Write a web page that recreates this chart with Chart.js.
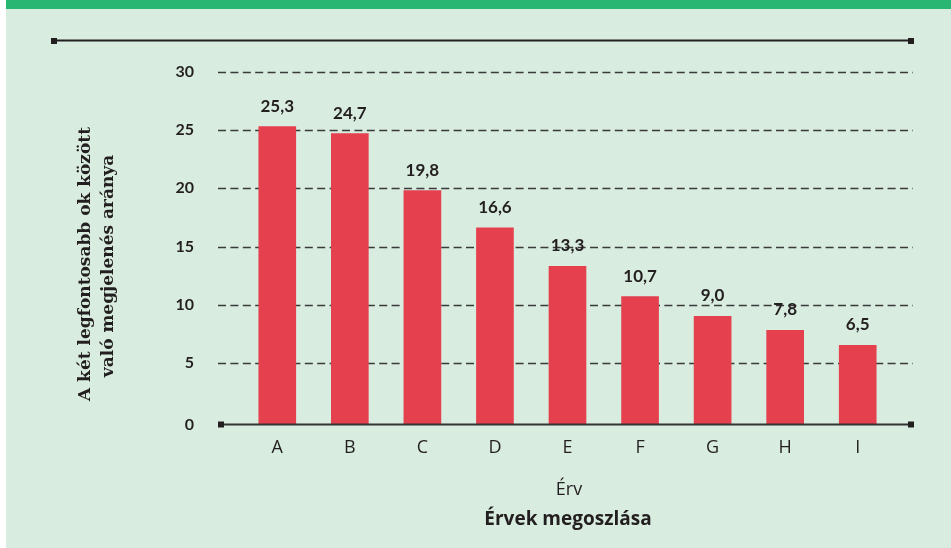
<!DOCTYPE html>
<html>
<head>
<meta charset="utf-8">
<script src="https://cdn.jsdelivr.net/npm/chart.js@4"></script>
<style>
  html, body { margin: 0; padding: 0; overflow: hidden; background: #fff; }
  #wrap { position: relative; width: 951px; height: 548px; }
</style>
</head>
<body>
<div id="wrap"><canvas id="chart"></canvas></div>
<script>
// ── Data ─────────────────────────────────────────────────────────────────────
const categories = ['A', 'B', 'C', 'D', 'E', 'F', 'G', 'H', 'I'];
const values     = [25.3, 24.7, 19.8, 16.6, 13.3, 10.7, 9.0, 7.8, 6.5];
const yTicks     = [0, 5, 10, 15, 20, 25, 30];
const yTitle     = ['A két legfontosabb ok között', 'való megjelenés aránya'];
const xTitle     = 'Érv';
const chartTitle = 'Érvek megoszlása';

// ── Colours / fonts ──────────────────────────────────────────────────────────
const BG    = '#d8ecdf';
const GREEN = '#29b673';
const BAR   = '#e5404e';
const INK   = '#231f20';
const NUM_FONT    = 'Lato, "Open Sans", sans-serif';
const NARROW_FONT = '"Liberation Sans Narrow", "Open Sans", sans-serif';
const AXIS_BASE   = -0.3;   // axis line sits a hair below zero

const fmt = v => v.toFixed(1).replace('.', ',');

function dot(ctx, x, y) {
  ctx.fillStyle = INK;
  ctx.fillRect(x - 3, y - 3, 6, 6);
}

// ── Plugins ──────────────────────────────────────────────────────────────────
const frame = {
  id: 'frame',
  beforeDraw(chart) {
    const { ctx, width, height } = chart;
    ctx.save();
    ctx.fillStyle = '#ffffff';
    ctx.fillRect(0, 0, width, height);
    ctx.fillStyle = BG;
    ctx.fillRect(6, 0, width - 6, height);
    ctx.fillStyle = GREEN;
    ctx.fillRect(6, 0, width - 6, 9);

    // top rule
    ctx.strokeStyle = INK;
    ctx.lineWidth = 2;
    ctx.beginPath();
    ctx.moveTo(54, 40.5);
    ctx.lineTo(911, 40.5);
    ctx.stroke();
    dot(ctx, 54, 41);
    dot(ctx, 911, 41);

    // dashed grid
    const y = chart.scales.y;
    ctx.strokeStyle = '#3a3a3a';
    ctx.lineWidth = 1.3;
    ctx.setLineDash([8, 4.4]);
    yTicks.filter(v => v > 0).forEach(v => {
      const py = Math.round(y.getPixelForValue(v)) + 0.5;
      ctx.beginPath();
      ctx.moveTo(218, py);
      ctx.lineTo(913, py);
      ctx.stroke();
    });
    ctx.setLineDash([]);

    // axis titles
    ctx.fillStyle = INK;
    ctx.textAlign = 'center';
    ctx.textBaseline = 'alphabetic';
    ctx.font = '18px ' + NARROW_FONT;
    ctx.fillText(xTitle, 569, 495);
    ctx.font = 'bold 19px ' + NARROW_FONT;
    ctx.fillText(chartTitle, 568, 525);

    ctx.font = 'bold 17px "DejaVu Serif", serif';
    ctx.textBaseline = 'middle';
    ctx.save();
    ctx.translate(86, 264);
    ctx.rotate(-Math.PI / 2);
    ctx.fillText(yTitle[0], 0, 0);
    ctx.restore();
    ctx.save();
    ctx.translate(109, 266);
    ctx.rotate(-Math.PI / 2);
    ctx.fillText(yTitle[1], 0, 0);
    ctx.restore();
    ctx.restore();
  },
  afterDatasetsDraw(chart) {
    const { ctx } = chart;
    ctx.save();
    // base axis line
    ctx.strokeStyle = '#333';
    ctx.lineWidth = 2;
    ctx.beginPath();
    ctx.moveTo(221, 424.5);
    ctx.lineTo(911, 424.5);
    ctx.stroke();
    dot(ctx, 221, 424.5);
    dot(ctx, 911, 424.5);

    // value labels
    ctx.fillStyle = INK;
    ctx.font = 'bold 17px ' + NUM_FONT;
    ctx.textAlign = 'center';
    ctx.textBaseline = 'alphabetic';
    chart.getDatasetMeta(0).data.forEach((bar, i) => {
      ctx.fillText(fmt(values[i]), bar.x, bar.y - 15);
    });
    ctx.restore();
  },
};

// ── Chart ────────────────────────────────────────────────────────────────────
new Chart(document.getElementById('chart'), {
  type: 'bar',
  data: {
    labels: categories,
    datasets: [{
      data: values,
      backgroundColor: BAR,
      borderWidth: 0,
      barThickness: 37,
      base: AXIS_BASE,
    }],
  },
  options: {
    responsive: true,
    maintainAspectRatio: false,
    animation: false,
    layout: { padding: { left: 0, right: 57, top: 72, bottom: 0 } },
    plugins: {
      legend: { display: false },
      tooltip: { enabled: false },
    },
    scales: {
      x: {
        grid: { display: false, drawTicks: false },
        border: { display: false },
        ticks: { color: INK, font: { family: NARROW_FONT, size: 18 }, padding: 13 },
        afterFit: s => { s.height = 123.5; },
      },
      y: {
        min: AXIS_BASE,
        max: 30,
        grid: { display: false, drawTicks: false },
        border: { display: false },
        // the zero label sits on the axis line, like the original
        afterBuildTicks: s => { s.ticks = yTicks.map(v => ({ value: v === 0 ? AXIS_BASE : v })); },
        ticks: {
          color: INK,
          font: { family: NUM_FONT, size: 16, weight: 'bold' },
          padding: 47,
          callback: v => (v < 0 ? '0' : v),
        },
        afterFit: s => { s.width = 241; },
      },
    },
  },
  plugins: [frame],
});
</script>
</body>
</html>
